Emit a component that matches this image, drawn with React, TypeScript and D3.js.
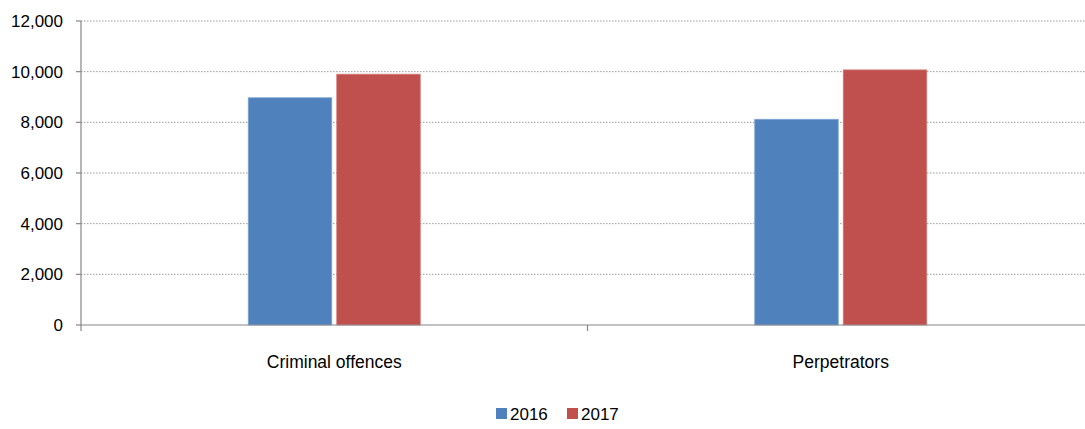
import React from "react";
import * as d3 from "d3";

const categories = ["Criminal offences", "Perpetrators"];
const seriesNames = ["2016", "2017"];
const values2016 = [8970, 8120];
const values2017 = [9900, 10070];
const yTicks = [0, 2000, 4000, 6000, 8000, 10000, 12000];
const colors = ["#4F81BD", "#C0504D"];

const W = 1085;
const H = 429;
const left = 81;
const right = 1094;
const top = 21;
const bottom = 325;

export default function App() {
  const x = d3.scaleBand<string>().domain(categories).range([left, right]).paddingInner(0).paddingOuter(0);
  const y = d3.scaleLinear().domain([0, 12000]).range([bottom, top]);
  const barW = 83.5;
  const gap = 5;
  const series = [values2016, values2017];
  const font = "'Liberation Sans', Arial, sans-serif";
  const fmt = d3.format(",");
  const boundaries = [left, ...categories.map((c) => (x(c) as number) + x.bandwidth())];

  return (
    <svg width={W} height={H} style={{ position: "absolute", left: 0, top: 0, background: "#fff" }}>
      {yTicks.filter((t) => t > 0).map((t) => (
        <line key={"g" + t} x1={left} x2={right} y1={y(t)} y2={y(t)} stroke="#9a9a9a" strokeWidth={1} strokeDasharray="1.5,1.5" />
      ))}
      {categories.map((c, ci) => {
        const center = (x(c) as number) + x.bandwidth() / 2;
        const total = barW * 2 + gap;
        return series.map((s, si) => {
          const bx = center - total / 2 + si * (barW + gap);
          return (
            <rect key={c + si} x={bx} y={y(s[ci])} width={barW} height={bottom - y(s[ci])} fill={colors[si]} stroke={si === 0 ? "#7fa3d4" : "#d27a77"} strokeWidth={0.8} />
          );
        });
      })}
      <line x1={left} x2={left} y1={top} y2={bottom} stroke="#868686" strokeWidth={1.2} />
      <line x1={left} x2={right} y1={bottom} y2={bottom} stroke="#868686" strokeWidth={1.2} />
      {yTicks.map((t) => (
        <g key={"t" + t}>
          <line x1={left - 5} x2={left} y1={y(t)} y2={y(t)} stroke="#868686" strokeWidth={1.2} />
          <text x={63} y={y(t)} dy="0.35em" textAnchor="end" fontFamily={font} fontSize={17} fill="#000">
            {fmt(t)}
          </text>
        </g>
      ))}
      {boundaries.map((b, i) => (
        <line key={"b" + i} x1={b} x2={b} y1={bottom} y2={bottom + 6} stroke="#868686" strokeWidth={1.2} />
      ))}
      {categories.map((c) => (
        <text key={"c" + c} x={(x(c) as number) + x.bandwidth() / 2} y={362} dy="0.35em" textAnchor="middle" fontFamily={font} fontSize={17.5} fill="#000">
          {c}
        </text>
      ))}
      {seriesNames.map((n, i) => {
        const lx = 496 + i * 71;
        return (
          <g key={"l" + n}>
            <rect x={lx} y={408} width={11} height={11} fill={colors[i]} />
            <text x={lx + 14} y={414} dy="0.35em" fontFamily={font} fontSize={17} fill="#000">
              {n}
            </text>
          </g>
        );
      })}
    </svg>
  );
}
